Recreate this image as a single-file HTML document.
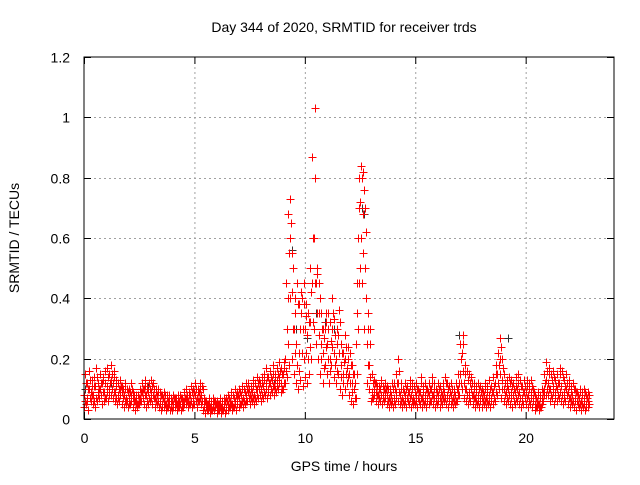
<!DOCTYPE html>
<html><head><meta charset="utf-8"><style>
body{margin:0;background:#fff}
svg text{font-family:"Liberation Sans",sans-serif;font-size:14px;fill:#000}
</style></head><body>
<svg id="chart" width="640" height="480" xmlns="http://www.w3.org/2000/svg">
<rect width="640" height="480" fill="#fff"/>
<text x="344" y="32" text-anchor="middle">Day 344 of 2020, SRMTID for receiver trds</text>
<text x="344" y="471" text-anchor="middle">GPS time / hours</text>
<text transform="translate(19,238) rotate(-90)" text-anchor="middle">SRMTID / TECUs</text>
<g id="grid"></g>
<g id="ticks"></g>
<g id="black"></g>
<g id="red"></g>
<rect x="84" y="57" width="530" height="362" fill="none" stroke="#000" stroke-width="1"/>
</svg>
<script>
const xTicks=[0,5,10,15,20];
const yTicks=[0,0.2,0.4,0.6,0.8,1,1.2];
const yTickLabels=["0","0.2","0.4","0.6","0.8","1","1.2"];
const redLow=[
.04,.05,.03,.06,.05,.04,.06,.07,.05,.06, .07,.06,.08,.07,.06,.05,.06,.05,.04,.05,
.04,.05,.04,.03,.04,.05,.06,.05,.04,.05, .06,.05,.04,.05,.04,.03,.04,.03,.04,.03,
.03,.04,.03,.04,.03,.04,.05,.04,.05,.04, .05,.04,.06,.05,.03,.02,.03,.02,.03,.03,
.02,.03,.02,.03,.02,.03,.04,.03,.04,.03, .04,.05,.04,.05,.06,.05,.06,.05,.06,.07,
.06,.07,.08,.07,.08,.09,.08,.09,.1,.09, .1,.12,.14,.18,.2,.15,.12,.1,.13,.11,
.14,.12,.15,.2,.3,.25,.2,.15,.12,.18, .15,.12,.18,.14,.12,.15,.1,.08,.1,.12,
.08,.06,.05,.07,.3,.5,.45,.3,.12,.1, .06,.07,.06,.05,.06,.05,.06,.05,.04,.05,
.04,.05,.06,.05,.04,.05,.04,.05,.04,.05, .05,.04,.05,.04,.05,.04,.05,.06,.05,.04,
.05,.04,.05,.06,.05,.04,.05,.04,.05,.06, .08,.1,.07,.06,.05,.06,.05,.04,.05,.04,
.04,.05,.04,.05,.04,.05,.06,.08,.1,.07, .06,.05,.06,.05,.04,.05,.06,.05,.04,.05,
.05,.04,.05,.04,.03,.04,.03,.04,.06,.08, .08,.06,.07,.05,.06,.07,.06,.05,.06,.05,
.04,.05,.04,.03,.04,.03,.04,.03,.04];
const redQ1=[
.06,.06,.07,.08,.06,.07,.08,.08,.09,.07, .09,.08,.1,.09,.07,.07,.08,.07,.06,.06,
.05,.06,.06,.05,.05,.06,.07,.08,.06,.07, .07,.07,.06,.06,.05,.04,.05,.04,.05,.04,
.04,.05,.04,.05,.04,.05,.06,.05,.06,.05, .06,.06,.07,.06,.04,.03,.04,.03,.04,.04,
.03,.04,.03,.04,.03,.04,.05,.04,.05,.05, .05,.06,.06,.06,.07,.07,.07,.07,.08,.08,
.08,.09,.1,.09,.1,.11,.1,.11,.12,.1, .12,.16,.25,.4,.3,.22,.18,.16,.22,.2,
.22,.2,.24,.32,.45,.35,.28,.2,.17,.24, .2,.16,.24,.18,.16,.22,.14,.12,.15,.14,
.12,.09,.07,.15,.45,.6,.55,.4,.18,.14, .07,.08,.08,.07,.08,.07,.07,.06,.06,.06,
.06,.07,.09,.06,.06,.06,.06,.07,.06,.06, .06,.06,.07,.06,.06,.06,.06,.08,.07,.06,
.06,.06,.07,.07,.07,.06,.06,.06,.06,.08, .12,.16,.1,.08,.07,.08,.07,.06,.06,.06,
.06,.06,.06,.06,.06,.07,.09,.12,.15,.1, .08,.07,.08,.07,.06,.07,.08,.07,.06,.07,
.07,.06,.07,.06,.04,.05,.04,.05,.08,.1, .1,.08,.09,.07,.08,.09,.08,.07,.08,.07,
.06,.06,.06,.05,.05,.05,.05,.04,.05];
const redMid=[
.08,.07,.1,.09,.08,.11,.09,.1,.12,.09, .11,.1,.13,.12,.09,.08,.1,.09,.08,.07,
.07,.08,.07,.06,.05,.07,.09,.1,.08,.09, .09,.08,.07,.08,.06,.05,.06,.05,.06,.05,
.05,.06,.05,.06,.05,.06,.07,.06,.08,.07, .08,.07,.09,.08,.05,.04,.05,.04,.05,.04,
.04,.05,.04,.05,.04,.05,.06,.05,.06,.07, .07,.08,.07,.08,.09,.08,.09,.08,.1,.1,
.1,.11,.12,.1,.12,.13,.11,.13,.14,.12, .15,.2,.4,.6,.42,.3,.25,.22,.35,.3,
.3,.28,.32,.45,.6,.45,.35,.25,.22,.3, .25,.2,.3,.22,.2,.28,.18,.15,.2,.17,
.15,.12,.1,.25,.6,.72,.68,.5,.25,.18, .09,.1,.09,.08,.1,.08,.09,.08,.07,.08,
.07,.09,.12,.08,.07,.08,.07,.09,.08,.07, .08,.07,.09,.07,.08,.07,.08,.1,.08,.07,
.08,.07,.08,.09,.08,.07,.08,.07,.08,.1, .15,.22,.12,.1,.09,.1,.08,.07,.08,.07,
.07,.08,.07,.08,.07,.09,.12,.15,.2,.13, .1,.09,.1,.09,.08,.09,.1,.09,.07,.09,
.09,.08,.09,.07,.05,.06,.05,.07,.1,.13, .12,.1,.11,.09,.1,.12,.11,.09,.1,.09,
.07,.08,.07,.06,.07,.06,.07,.05,.06];
const redQ3=[
.12,.1,.13,.11,.11,.14,.1,.12,.13,.12, .14,.12,.15,.14,.11,.1,.11,.1,.1,.09,
.09,.1,.08,.07,.07,.09,.1,.11,.1,.1, .11,.1,.09,.09,.08,.07,.08,.07,.07,.06,
.07,.07,.06,.07,.06,.07,.08,.08,.09,.09, .1,.09,.1,.1,.06,.05,.06,.05,.06,.05,
.05,.06,.05,.06,.06,.07,.08,.07,.08,.08, .09,.1,.09,.1,.1,.1,.11,.1,.12,.12,
.12,.13,.14,.12,.14,.15,.13,.15,.16,.15, .17,.3,.55,.65,.5,.35,.38,.3,.4,.38,
.34,.32,.42,.6,.8,.48,.4,.3,.27,.32, .3,.26,.35,.28,.25,.32,.22,.19,.24,.2,
.18,.15,.12,.35,.7,.8,.76,.62,.3,.25, .12,.12,.11,.1,.12,.1,.1,.1,.09,.1,
.1,.12,.16,.1,.09,.1,.09,.11,.1,.09, .1,.09,.12,.09,.1,.09,.1,.12,.1,.09,
.1,.09,.1,.12,.1,.09,.1,.09,.1,.12, .2,.25,.15,.13,.12,.12,.1,.09,.1,.09,
.09,.1,.09,.1,.09,.11,.15,.18,.24,.17, .12,.11,.12,.11,.1,.11,.12,.11,.09,.11,
.11,.1,.11,.09,.07,.08,.07,.09,.12,.16, .15,.13,.14,.11,.12,.15,.14,.11,.12,.11,
.09,.1,.09,.08,.09,.08,.09,.07,.08];
const redHigh=[
.15,.12,.16,.13,.14,.17,.12,.15,.14,.16, .17,.15,.18,.16,.13,.12,.13,.11,.12,.1,
.1,.12,.09,.08,.08,.1,.12,.13,.11,.12, .13,.12,.1,.1,.09,.08,.09,.08,.08,.07,
.08,.07,.08,.08,.07,.09,.1,.09,.11,.1, .12,.1,.12,.11,.07,.06,.07,.06,.07,.06,
.06,.07,.06,.07,.07,.08,.09,.08,.1,.09, .1,.11,.1,.12,.12,.11,.13,.12,.14,.13,
.14,.15,.17,.14,.16,.18,.15,.17,.19,.17, .19,.45,.68,.73,.55,.4,.45,.38,.42,.45,
.38,.35,.5,.87,1.03,.5,.45,.35,.3,.35, .35,.32,.4,.33,.3,.36,.25,.22,.28,.24,
.22,.18,.15,.45,.8,.84,.82,.7,.35,.3, .15,.13,.12,.11,.13,.11,.12,.11,.1,.12,
.12,.15,.2,.12,.1,.12,.11,.13,.12,.11, .12,.1,.14,.11,.12,.1,.12,.14,.12,.1,
.12,.11,.12,.14,.12,.11,.12,.1,.12,.15, .25,.28,.18,.16,.15,.14,.12,.11,.12,.11,
.1,.12,.11,.13,.11,.14,.18,.22,.27,.2, .15,.13,.14,.13,.12,.14,.15,.13,.11,.13,
.13,.12,.13,.1,.08,.09,.08,.1,.15,.19, .17,.15,.16,.13,.15,.17,.16,.13,.15,.13,
.11,.12,.1,.09,.1,.09,.1,.08,.09];
const blackTimes=[0.05,0.3,1.2,2.9,8.6,9.4,9.6,10.1,10.5,10.9,11.3,11.8,12.6,12.7,17.0,19.2];
const blackValues=[0.1,0.09,0.12,0.11,0.12,0.56,0.3,0.27,0.35,0.32,0.3,0.28,0.7,0.68,0.28,0.27];
const sx=t=>84+t*(530/24);
const sy=v=>419-v*(362/1.2);
const NS="http://www.w3.org/2000/svg";
const grid=document.getElementById('grid'),ticks=document.getElementById('ticks');
function line(g,x1,y1,x2,y2,st,dash){const l=document.createElementNS(NS,'line');l.setAttribute('x1',x1);l.setAttribute('y1',y1);l.setAttribute('x2',x2);l.setAttribute('y2',y2);l.setAttribute('stroke',st);if(dash)l.setAttribute('stroke-dasharray',dash);g.appendChild(l);return l;}
function txt(g,x,y,s,anchor){const t=document.createElementNS(NS,'text');t.setAttribute('x',x);t.setAttribute('y',y);t.setAttribute('text-anchor',anchor);t.textContent=s;g.appendChild(t);return t;}
xTicks.forEach(v=>{const x=sx(v)+0.5;
 if(v>0){const g=line(grid,x,57,x,419,'#a0a0a0','2,3');}
 line(ticks,x,419,x,412,'#000');line(ticks,x,57,x,64,'#000');
 const t=txt(ticks,x,443,String(v),'middle');
 
 });
yTicks.forEach((v,i)=>{const y=Math.round(sy(v))+0.5;
 if(v>0&&v<1.2){const g=line(grid,84,y,614,y,'#a0a0a0','2,3');}
 line(ticks,84,y,91,y,'#000');line(ticks,614,y,607,y,'#000');
 const t=txt(ticks,70,y+5,yTickLabels[i],'end');
 
 });
function plus(g,t,v,col,name){const x=Math.round(sx(t))+0.5,y=Math.round(sy(v))+0.5;
 const p=document.createElementNS(NS,'path');
 p.setAttribute('d',`M${x-4} ${y}H${x+4}M${x} ${y-4}V${y+4}`);
 p.setAttribute('stroke',col);p.setAttribute('fill','none');
 
 
 g.appendChild(p);}
const bg=document.getElementById('black'),rg=document.getElementById('red');
blackTimes.forEach((t,i)=>plus(bg,t,blackValues[i],'#333','black-point'));
[[redLow,0],[redQ1,0.05],[redMid,0.02],[redQ3,0.07],[redHigh,0.04]].forEach(([arr,off])=>arr.forEach((v,i)=>plus(rg,i*0.1+off,v,'#f00','red-point')));
</script>
</body></html>
